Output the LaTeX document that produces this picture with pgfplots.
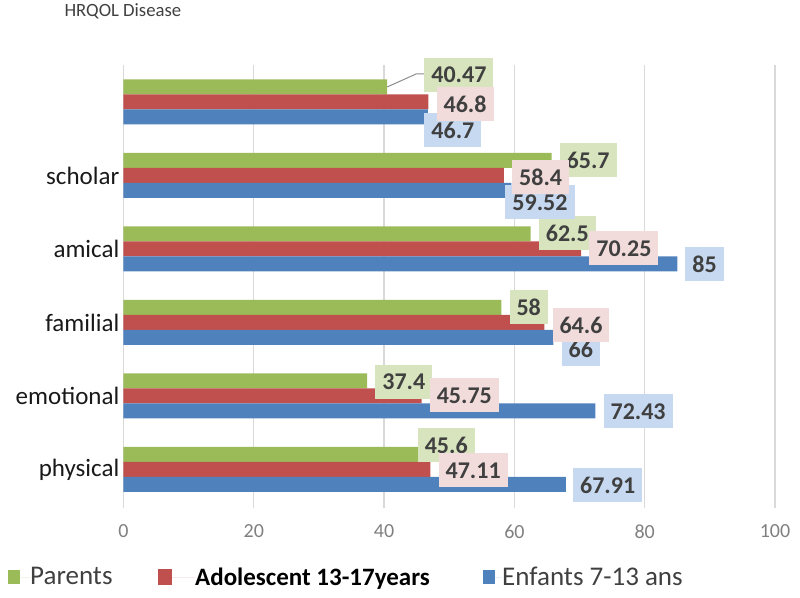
\documentclass[border=0pt]{standalone}
\usepackage{pgfplots}
\usepackage{pgfplotstable}
\pgfplotsset{compat=1.18}
\usepackage{fontspec}
\setmainfont{Carlito}
\definecolor{cg}{HTML}{9BBB59}
\definecolor{cr}{HTML}{C0504D}
\definecolor{cb}{HTML}{4F81BD}
\definecolor{lg}{HTML}{D7E4BD}
\definecolor{lr}{HTML}{F2DCDB}
\definecolor{lb}{HTML}{C6D9F1}
\definecolor{txt}{HTML}{404040}

\pgfplotstableread{
y val lab dx dy
5 40.47 40.47 37 12
4 65.7 65.7 8 0
3 62.5 62.5 8 0.5
2 58 58 8 0.5
1 37.4 37.4 8 -1
0 45.6 45.6 -3 9
}\parents
\pgfplotstableread{
y val lab dx dy
5 46.8 46.8 8 -2
4 58.4 58.4 8 -2
3 70.25 70.25 8 0.5
2 64.6 64.6 8 -2.5
1 45.75 45.75 8 0.5
0 47.11 47.11 8 -1
}\ado
\pgfplotstableread{
y val lab dx dy
5 46.7 46.7 -3.5 -13
4 59.52 59.52 -6 -12
3 85 85 8 0
2 66 66 8 -12
1 72.43 72.43 8 -0.5
0 67.91 67.91 7 -0.5
}\enf

\pgfplotsset{
  lbl/.style={
    draw=none, fill=none, forget plot,
    point meta=explicit symbolic,
    nodes near coords,
    visualization depends on={\thisrow{dx}\as\dx},
    visualization depends on={\thisrow{dy}\as\dy},
    every node near coord/.append style={anchor=west, xshift=\dx pt, yshift=\dy pt,
      fill=#1, text=txt, font=\bfseries\fontsize{24}{28}\selectfont,
      inner xsep=7pt, inner ysep=0pt, minimum height=34pt},
  }
}

\begin{document}
\begin{tikzpicture}
\begin{axis}[
  scale only axis, width=651.5pt, height=443pt,
  xbar, bar width=15pt,
  xmin=0, xmax=100, ymin=-0.524, ymax=5.503,
  xtick={0,20,40,60,80,100}, ytick={0,1,2,3,4,5},
  yticklabels={physical,emotional,familial,amical,scholar,{}},
  xmajorgrids, grid style={draw=black!15, line width=1.3pt},
  axis line style={draw=none},
  major tick length=0pt,
  /pgf/number format/assume math mode=true,
  xticklabel style={font=\fontsize{20}{24}\selectfont, text=black!50, yshift=-13pt},
  yticklabel style={font=\fontsize{25}{28}\selectfont, text=black!90, inner sep=2pt, xshift=-2pt},
  clip=false,
  legend columns=3,
  legend style={draw=none, fill=none, inner sep=0pt,
    at={(axis description cs:-0.1773,-0.1558)}, anchor=west,
    font=\fontsize{27}{30}\selectfont, text=txt,
    /tikz/every odd column/.style={column sep=0pt},
    /tikz/every even column/.style={column sep=0pt},
    nodes={inner sep=0pt}},
]
\addplot[fill=cg, draw=none, bar shift=15pt,
  legend image code/.code={\fill[cg] (0pt,-7pt) rectangle (12pt,7pt); \path (0pt,0pt) -- (22pt,0pt);}]
  table[x=val,y=y]{\parents};
\addlegendentry{\makebox[128pt][l]{Parents}}
\addplot[fill=cr, draw=none, bar shift=0pt,
  legend image code/.code={\fill[cr] (0pt,-8pt) rectangle (14pt,8pt); \path (0pt,0pt) -- (37pt,0pt);}]
  table[x=val,y=y]{\ado};
\addlegendentry{\makebox[288pt][l]{\fontsize{25}{28}\selectfont\bfseries\color{black}Adolescent 13-17years}}
\addplot[fill=cb, draw=none, bar shift=-15pt,
  legend image code/.code={\fill[cb] (0pt,-7pt) rectangle (12pt,7pt); \path (0pt,0pt) -- (19pt,0pt);}]
  table[x=val,y=y]{\enf};
\addlegendentry{Enfants 7-13 ans}

\draw[black!45, line width=1pt] ([yshift=15pt]axis cs:40.47,5) -- ++(29pt,13pt) -- ++(8pt,0pt);

\addplot[lbl=lg, bar shift=15pt] table[x=val,y=y,meta=lab]{\parents};
\addplot[lbl=lb, bar shift=-15pt] table[x=val,y=y,meta=lab]{\enf};
\addplot[lbl=lr, bar shift=0pt] table[x=val,y=y,meta=lab]{\ado};
\end{axis}
\node[anchor=base west, font=\fontsize{18.7}{21}\selectfont, text=txt] at (-62.5pt,491pt) {HRQOL Disease};
\pgfresetboundingbox
\path[use as bounding box] (-123.5pt,-89pt) rectangle (676.5pt,508pt);
\end{tikzpicture}
\end{document}
